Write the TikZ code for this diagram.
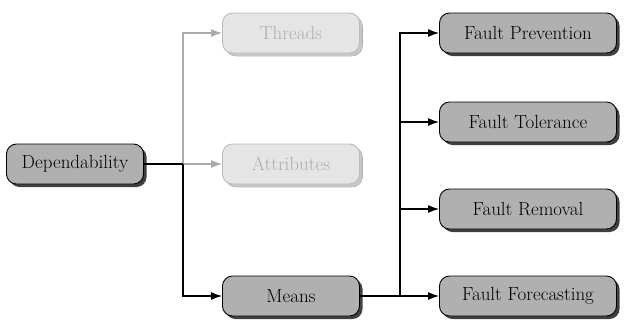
\documentclass[tikz,border=0pt]{standalone}
\usetikzlibrary{arrows.meta,shadows}

\begin{document}
\begin{tikzpicture}[x=1pt,y=-1pt]
        \tikzstyle{box}=[draw=black,fill=black!31,rounded corners=10pt,line width=0.9pt,
          minimum width=137pt,minimum height=40pt,inner sep=0pt,font=\rmfamily\fontsize{19}{23}\selectfont,
          drop shadow={shadow xshift=3pt,shadow yshift=-3pt,fill=black!75,opacity=1}];
        \tikzstyle{dimbox}=[box,draw=black!27,fill=black!10,text=black!32,
          drop shadow={shadow xshift=3pt,shadow yshift=-3pt,fill=black!22,opacity=1}];
        \tikzstyle{widebox}=[box,minimum width=177pt];
        \tikzstyle{link}=[line width=1.3pt,-{Latex[length=11pt,width=8pt]}];
        \tikzstyle{dimlink}=[link,draw=black!33];
        \useasboundingbox (0,0) rectangle (629,322);

          \node[box](dep) at (75,164) {Dependability};
          \node[dimbox](threads) at (291,33) {Threads};
          \node[dimbox](attr) at (291,164) {Attributes};
          \node[box](means) at (291,296) {Means};

          \node[widebox](prev) at (528,33) {Fault Prevention};
          \node[widebox](tol) at (528,122) {Fault Tolerance};
          \node[widebox](rem) at (528,209) {Fault Removal};
          \node[widebox](fore) at (528,296) {Fault Forecasting};

          \coordinate(split) at (183,164);
          \coordinate(fork) at (400,296);

          \draw[dimlink] (split) |- (threads.west);
          \draw[dimlink] (split) -- (attr.west);
          \draw[link,-] (dep.east) -- (split);
          \draw[link] (split) |- (means.west);

          \draw[link,-] (means.east) -- (fork);
          \foreach \n in {prev,tol,rem,fore}{
            \draw[link] (fork) |- (\n.west);
          }
      \end{tikzpicture}
\end{document}
